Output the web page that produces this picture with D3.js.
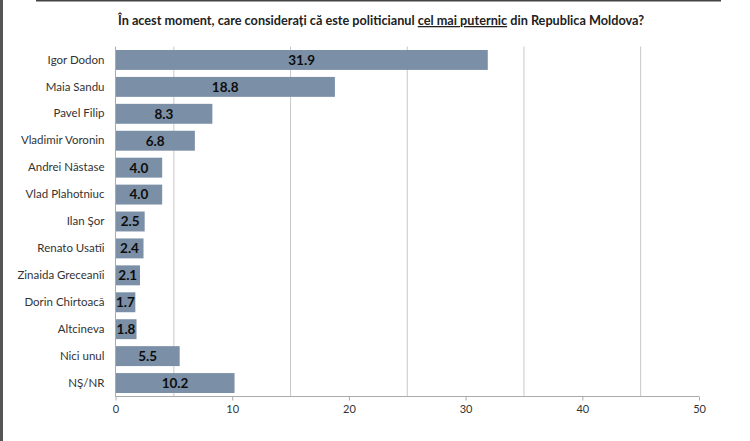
<!DOCTYPE html>
<html>
<head>
<meta charset="utf-8">
<script src="https://cdn.jsdelivr.net/npm/d3@7/dist/d3.min.js"></script>
<style>
  html, body { margin: 0; padding: 0; background: #fff; }
  svg { display: block; }
</style>
</head>
<body>
<script>
const categories = ["Igor Dodon", "Maia Sandu", "Pavel Filip", "Vladimir Voronin", "Andrei Năstase",
  "Vlad Plahotniuc", "Ilan Şor", "Renato Usatîi", "Zinaida Greceanîi", "Dorin Chirtoacă",
  "Altcineva", "Nici unul", "NŞ/NR"];
const values = [31.9, 18.8, 8.3, 6.8, 4.0, 4.0, 2.5, 2.4, 2.1, 1.7, 1.8, 5.5, 10.2];
const xTicks = [0, 10, 20, 30, 40, 50];
const gridValues = [5, 15, 25, 35, 45];
const titleText = "În acest moment, care considerați că este politicianul ";
const titleUnder = "cel mai puternic";
const titleEnd = " din Republica Moldova?";

(function () {
const W = 750, H = 441;
const font = "Lato, 'Open Sans', sans-serif";
const svg = d3.select("body").append("svg").attr("width", W).attr("height", H);

// frame edges
svg.append("rect").attr("x", 0).attr("y", 0).attr("width", 3).attr("height", H).attr("fill", "#555");
svg.append("rect").attr("x", 36).attr("y", 0).attr("width", 685).attr("height", 1.5).attr("fill", "#444");

const pLeft = 115.5, pRight = 699, pTop = 46.5, pBottom = 396.5;
const x = d3.scaleLinear().domain([0, 50]).range([pLeft, pRight]);
const y = d3.scaleBand().domain(categories).range([pTop, pBottom]).paddingInner(0.26).paddingOuter(0.13);

// gridlines
svg.append("g").selectAll("line").data(gridValues).join("line")
  .attr("x1", d => x(d)).attr("x2", d => x(d))
  .attr("y1", pTop).attr("y2", pBottom)
  .attr("stroke", "#c8c8c8").attr("stroke-width", 1);

// bars
svg.append("g").selectAll("rect").data(values).join("rect")
  .attr("x", x(0))
  .attr("y", (d, i) => y(categories[i]))
  .attr("width", d => x(d) - x(0))
  .attr("height", y.bandwidth())
  .attr("fill", "#7b8fa6");

// value labels
svg.append("g").selectAll("text").data(values).join("text")
  .attr("x", d => (x(d) + x(0)) / 2)
  .attr("y", (d, i) => y(categories[i]) + y.bandwidth() / 2)
  .attr("dy", "0.36em")
  .attr("text-anchor", "middle")
  .attr("font-family", font).attr("font-weight", "bold").attr("font-size", 13.5)
  .attr("fill", "#0d0d0d")
  .text(d => d.toFixed(1));

// y axis
const yAxis = svg.append("g").attr("transform", `translate(${pLeft},0)`)
  .call(d3.axisLeft(y).tickSize(0).tickPadding(11));
yAxis.select(".domain").attr("stroke", "#aaa").attr("d", `M0,${pTop}V${pBottom}`);
yAxis.selectAll("text").attr("font-family", font).attr("font-size", 11.5).attr("fill", "#333");

// x axis
const xAxis = svg.append("g").attr("transform", `translate(0,${pBottom})`)
  .call(d3.axisBottom(x).tickValues(xTicks).tickSize(4).tickPadding(5).tickFormat(d3.format("d")));
xAxis.select(".domain").attr("stroke", "#aaa").attr("d", `M${pLeft},0H${pRight}`);
xAxis.selectAll(".tick line").attr("stroke", "#aaa");
xAxis.selectAll("text").attr("font-family", font).attr("font-size", 11).attr("fill", "#333");

// title
const t = svg.append("text").attr("x", 381).attr("y", 25).attr("text-anchor", "middle")
  .attr("font-family", font).attr("font-weight", "bold").attr("font-size", 12.7).attr("fill", "#222");
t.append("tspan").text(titleText);
t.append("tspan").attr("text-decoration", "underline").text(titleUnder);
t.append("tspan").text(titleEnd);
})();
</script>
</body>
</html>
